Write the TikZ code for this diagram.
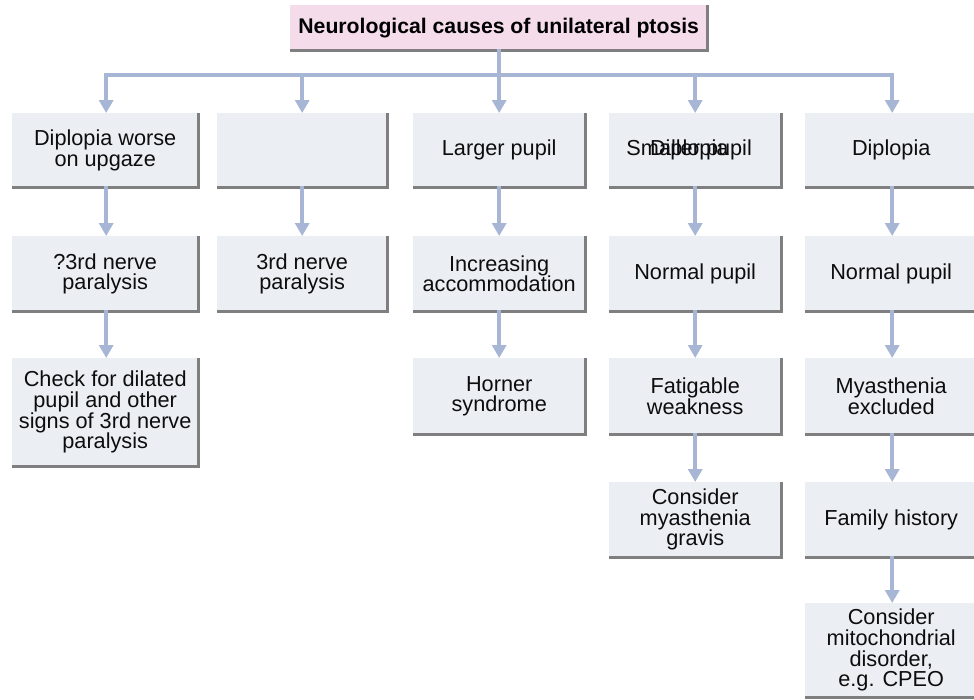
\documentclass[tikz,border=0pt]{standalone}
\usepackage{fontspec}
\setmainfont{Liberation Sans}
\usetikzlibrary{arrows.meta}
\definecolor{boxfill}{HTML}{EBEFF4}
\definecolor{titlefill}{HTML}{F5DCEB}
\definecolor{edgegray}{HTML}{7F7F7F}
\definecolor{arr}{HTML}{A8B6D5}
\begin{document}
\begin{tikzpicture}[x=1pt,y=-1pt,
  cell/.style={anchor=north west, fill=boxfill, inner sep=0pt, align=center,
    font=\fontsize{21.7}{20.6}\selectfont, text=black!95},
  ttl/.style={anchor=north west, fill=titlefill, inner sep=0pt, align=center,
    font=\fontsize{21.2}{21}\selectfont\bfseries, text=black},
  overtext/.style={inner sep=0pt, align=center, font=\fontsize{21.7}{20.6}\selectfont, text=black!95},
  edge/.style={draw=edgegray, line width=2.4pt},
  conn/.style={draw=arr, line width=4pt, -{Triangle[width=14pt,length=13pt]}},
  bar/.style={draw=arr, line width=4pt, line cap=rect}]
\useasboundingbox (0,0) rectangle (974,699);
% title
\node[ttl, minimum width=417pt, minimum height=45pt] (t) at (290,5) {Neurological causes of unilateral ptosis};
% column 1
\node[cell, minimum width=186pt, minimum height=74pt] (a1) at (12,113) {Diplopia worse\\on upgaze};
\node[cell, minimum width=186pt, minimum height=75pt] (a2) at (12,236) {?3rd nerve\\paralysis};
\node[cell, minimum width=186pt, minimum height=108pt] (a3) at (12,358) {Check for dilated\\pupil and other\\signs of 3rd nerve\\paralysis};
% column 2
\node[cell, minimum width=170pt, minimum height=74pt] (b1) at (217,113) {};
\node[cell, minimum width=170pt, minimum height=75pt] (b2) at (217,236) {3rd nerve\\paralysis};
% column 3
\node[cell, minimum width=172pt, minimum height=74pt] (c1) at (413,113) {Larger pupil};
\node[cell, minimum width=172pt, minimum height=75pt] (c2) at (413,236) {Increasing\\accommodation};
\node[cell, minimum width=172pt, minimum height=76pt] (c3) at (413,358) {Horner\\syndrome};
% column 4
\node[cell, minimum width=172pt, minimum height=74pt] (d1) at (609,113) {};
\node[overtext] (d1a) at ([xshift=-6pt]d1.center) {Smaller pupil};
\node[overtext] (d1b) at ([xshift=-6pt]d1.center) {Diplopia};
\node[cell, minimum width=172pt, minimum height=75pt] (d2) at (609,236) {Normal pupil};
\node[cell, minimum width=172pt, minimum height=76pt] (d3) at (609,358) {Fatigable\\weakness};
\node[cell, minimum width=172pt, minimum height=75pt] (d4) at (609,482) {Consider\\myasthenia\\gravis};
% column 5
\node[cell, minimum width=172pt, minimum height=74pt] (e1) at (805,113) {Diplopia};
\node[cell, minimum width=172pt, minimum height=75pt] (e2) at (805,236) {Normal pupil};
\node[cell, minimum width=172pt, minimum height=76pt] (e3) at (805,358) {Myasthenia\\excluded};
\node[cell, minimum width=172pt, minimum height=75pt] (e4) at (805,482) {Family history};
\node[cell, minimum width=172pt, minimum height=94pt] (e5) at (805,603) {Consider\\mitochondrial\\disorder,\\e.g. CPEO};
% edges (right and bottom)
\foreach \n in {t,a1,a2,a3,b1,b2,c1,c2,c3,d1,d2,d3,d4,e1,e2,e3,e4,e5}
  \draw[edge] (\n.north east) -- (\n.south east) -- (\n.south west);
% top connectors
\coordinate (bar) at (0,75);
\draw[bar] ([xshift=1pt]a1.north |- bar) -- ([xshift=1pt]e1.north |- bar);
\draw[draw=arr, line width=4pt] ([yshift=1.2pt]t.south) -- (t.south |- bar);
\draw[conn] ([xshift=1pt]a1.north |- bar) -- ([xshift=1pt]a1.north);
\draw[conn] (b1.north |- bar) -- (b1.north);
\draw[conn] (c1.north |- bar) -- (c1.north);
\draw[conn] (d1.north |- bar) -- (d1.north);
\draw[conn] ([xshift=1pt]e1.north |- bar) -- ([xshift=1pt]e1.north);
% column connectors
\draw[conn] ([xshift=1pt,yshift=1.2pt]a1.south) -- ([xshift=1pt]a2.north);
\draw[conn] ([xshift=1pt,yshift=1.2pt]a2.south) -- ([xshift=1pt]a3.north);
\draw[conn] ([yshift=1.2pt]b1.south) -- (b2.north);
\draw[conn] ([yshift=1.2pt]c1.south) -- (c2.north);
\draw[conn] ([yshift=1.2pt]c2.south) -- (c3.north);
\draw[conn] ([yshift=1.2pt]d1.south) -- (d2.north);
\draw[conn] ([yshift=1.2pt]d2.south) -- (d3.north);
\draw[conn] ([yshift=1.2pt]d3.south) -- (d4.north);
\draw[conn] ([xshift=1pt,yshift=1.2pt]e1.south) -- ([xshift=1pt]e2.north);
\draw[conn] ([xshift=1pt,yshift=1.2pt]e2.south) -- ([xshift=1pt]e3.north);
\draw[conn] ([xshift=1pt,yshift=1.2pt]e3.south) -- ([xshift=1pt]e4.north);
\draw[conn] ([xshift=1pt,yshift=1.2pt]e4.south) -- ([xshift=1pt]e5.north);
\end{tikzpicture}
\end{document}
